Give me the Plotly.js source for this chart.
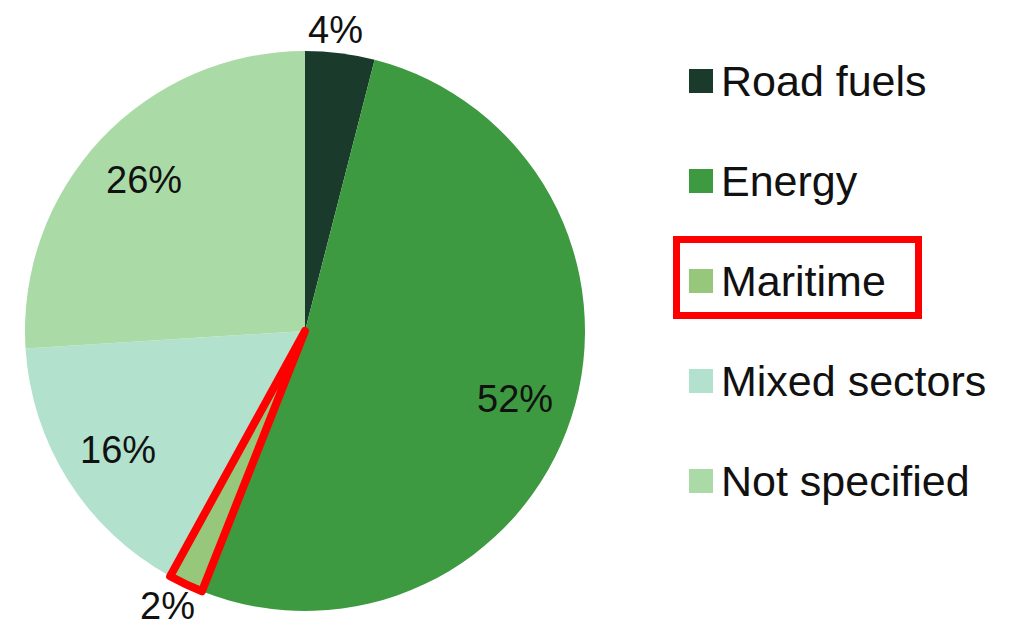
<!DOCTYPE html>
<html>
<head>
<meta charset="utf-8">
<script src="https://cdn.plot.ly/plotly-3.0.1.min.js"></script>
<style>html,body{margin:0;padding:0;background:#fff;}#chart{width:1020px;height:628px;}</style>
</head>
<body>
<div id="chart"></div>
<script>
const categories = ["Road fuels", "Energy", "Maritime", "Mixed sectors", "Not specified"];
const shares = [4, 52, 2, 16, 26];
const sliceColors = ["#1a3b2c", "#3d9a40", "#96c77b", "#b2e1cd", "#aadba6"];
const labelPositions = ["outside", "inside", "outside", "inside", "inside"];
const highlighted = "Maritime";

const W = 1020, H = 628;
const FONT = "Liberation Sans, Arial, sans-serif";
const CX = 305, CY = 331, R = 280;
const domain = {x: [(CX - R) / W, (CX + R) / W], y: [1 - (CY + R) / H, 1 - (CY - R) / H]};

const pie = {
  type: "pie",
  labels: categories,
  values: shares,
  sort: false,
  direction: "clockwise",
  rotation: 0,
  domain: domain,
  marker: {colors: sliceColors, line: {width: 0}},
  textinfo: "none",
  hoverinfo: "label+percent",
  showlegend: false
};

const outline = {
  type: "pie",
  labels: categories,
  values: shares,
  sort: false,
  direction: "clockwise",
  rotation: 0,
  domain: domain,
  marker: {
    colors: categories.map(() => "rgba(0,0,0,0)"),
    line: {
      color: categories.map(c => c === highlighted ? "#ff0000" : "rgba(0,0,0,0)"),
      width: categories.map(c => c === highlighted ? 8 : 0)
    }
  },
  textinfo: "none",
  hoverinfo: "skip",
  showlegend: false
};

const shapes = [];
const annotations = [];

// slice value labels, placed at each slice's mid-angle
const total = shares.reduce((a, b) => a + b, 0);
let cum = 0;
shares.forEach((v, i) => {
  const mid = (cum + v / 2) / total * 2 * Math.PI;
  cum += v;
  const rf = labelPositions[i] === "inside" ? 0.79 : 1.085;
  const px = CX + R * rf * Math.sin(mid) - (labelPositions[i] === "outside" ? 8 : 0);
  const py = CY - R * rf * Math.cos(mid);
  annotations.push({
    xref: "paper", yref: "paper",
    x: px / W, y: 1 - py / H,
    xanchor: "center", yanchor: "middle",
    text: v + "%", showarrow: false,
    font: {family: FONT, size: 38, color: "#111111"}
  });
});

// legend
const legendX0 = 689, legendSize = 24, legendTop = 81, legendStep = 100;
categories.forEach((c, i) => {
  const yc = legendTop + i * legendStep;
  shapes.push({
    type: "rect", xref: "paper", yref: "paper",
    x0: legendX0 / W, x1: (legendX0 + legendSize) / W,
    y0: 1 - (yc + legendSize / 2) / H, y1: 1 - (yc - legendSize / 2) / H,
    fillcolor: sliceColors[i], line: {width: 0}
  });
  annotations.push({
    xref: "paper", yref: "paper",
    x: (legendX0 + legendSize + 6) / W, y: 1 - yc / H,
    xanchor: "left", yanchor: "middle",
    text: c, showarrow: false,
    font: {family: FONT, size: 43, color: "#111111"}
  });
  if (c === highlighted) {
    shapes.push({
      type: "rect", xref: "paper", yref: "paper",
      x0: 676.5 / W, x1: 918.5 / W,
      y0: 1 - 315.5 / H, y1: 1 - 239.5 / H,
      line: {color: "#ff0000", width: 7}, fillcolor: "rgba(0,0,0,0)"
    });
  }
});

const layout = {
  width: W, height: H,
  margin: {l: 0, r: 0, t: 0, b: 0},
  paper_bgcolor: "#ffffff",
  showlegend: false,
  shapes: shapes,
  annotations: annotations,
  font: {family: FONT}
};

Plotly.newPlot("chart", [pie, outline], layout, {displayModeBar: false, staticPlot: true});
</script>
</body>
</html>
